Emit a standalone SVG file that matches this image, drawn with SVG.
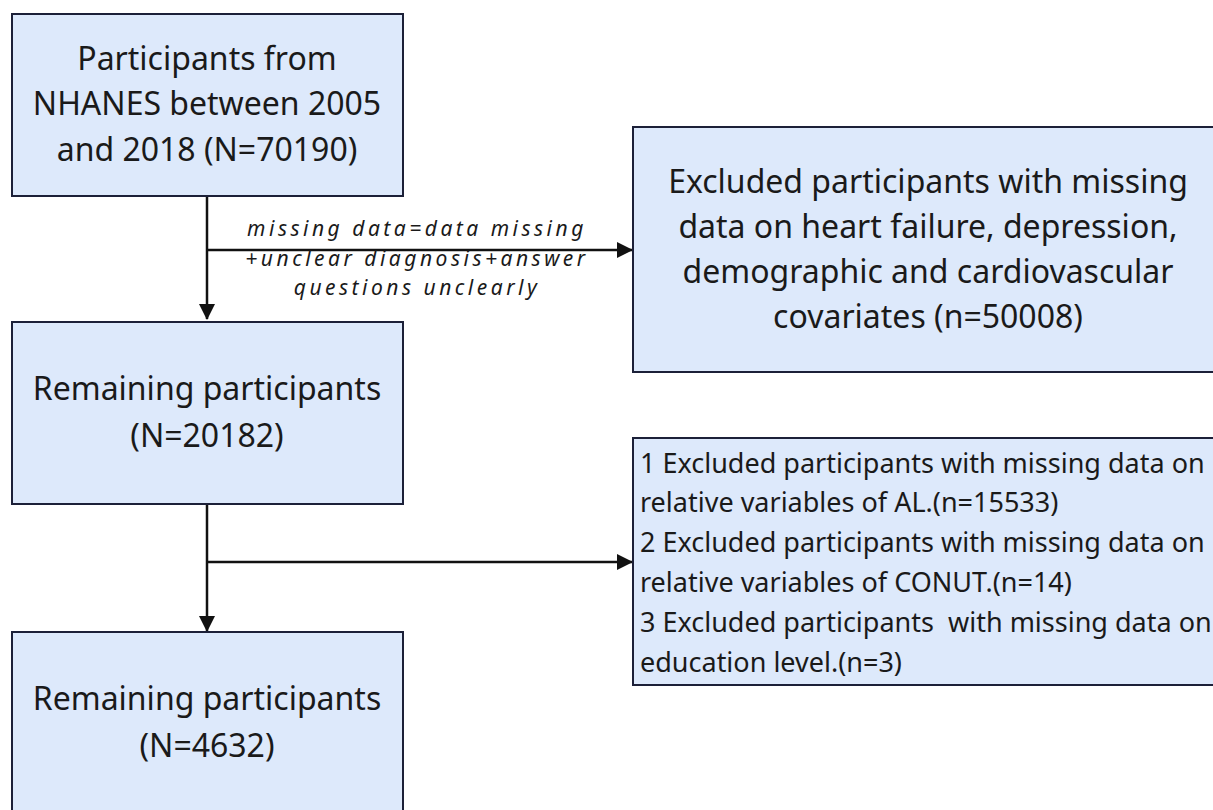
<svg xmlns="http://www.w3.org/2000/svg" width="1213" height="810" viewBox="0 0 1213 810">
<defs>
<marker id="ah" markerWidth="16" markerHeight="16" refX="15" refY="8" orient="auto" markerUnits="userSpaceOnUse" viewBox="0 0 16 16">
<path d="M0,0 L16,8 L0,16 z" fill="#111"/>
</marker>
<style>
.box{fill:#dde9fb;stroke:#1c2038;stroke-width:2}
.t{font-family:"Noto Sans","Open Sans","DejaVu Sans",sans-serif;fill:#1a1a1a}
.big{font-size:32px}
.mid{font-size:27px}
.lbl{font-family:"Noto Sans","Open Sans","DejaVu Sans",sans-serif;font-size:21px;font-style:italic;fill:#1a1a1a;letter-spacing:3.5px}
.c{text-anchor:middle}
.ln{stroke:#111;stroke-width:2.5;fill:none}
.pre{white-space:pre}
</style>
</defs>
<rect width="1213" height="810" fill="#fff"/>
<g id="connectors">
<line class="ln" x1="207" y1="196" x2="207" y2="319" marker-end="url(#ah)"/>
<line class="ln" x1="207" y1="250" x2="632" y2="250" marker-end="url(#ah)"/>
<line class="ln" x1="207" y1="504" x2="207" y2="631" marker-end="url(#ah)"/>
<line class="ln" x1="207" y1="562" x2="632" y2="562" marker-end="url(#ah)"/>
<text class="lbl c" x="417" y="236">missing data=data missing</text>
<text class="lbl c" x="417" y="266">+unclear diagnosis+answer</text>
<text class="lbl c" x="417" y="295">questions unclearly</text>
</g>
<g id="node1">
<rect class="box" x="12" y="14" width="391" height="182"/>
<text class="t big c" x="207" y="70">Participants from</text>
<text class="t big c" x="207" y="115">NHANES between 2005</text>
<text class="t big c" x="207" y="161">and 2018 (N=70190)</text>
</g>
<g id="node2">
<rect class="box" x="12" y="322" width="391" height="182"/>
<text class="t big c" x="207" y="400">Remaining participants</text>
<text class="t big c" x="207" y="447">(N=20182)</text>
</g>
<g id="node3">
<rect class="box" x="12" y="632" width="391" height="190"/>
<text class="t big c" x="207" y="710">Remaining participants</text>
<text class="t big c" x="207" y="757">(N=4632)</text>
</g>
<g id="node4">
<rect class="box" x="633" y="127" width="590" height="245"/>
<text class="t big c" x="928" y="193">Excluded participants with missing</text>
<text class="t big c" x="928" y="238">data on heart failure, depression,</text>
<text class="t big c" x="928" y="283">demographic and cardiovascular</text>
<text class="t big c" x="928" y="328">covariates (n=50008)</text>
</g>
<g id="node5">
<rect class="box" x="633" y="438" width="590" height="247"/>
<text class="t mid" x="640" y="473">1 Excluded participants with missing data on</text>
<text class="t mid" x="640" y="512">relative variables of AL.(n=15533)</text>
<text class="t mid" x="640" y="552">2 Excluded participants with missing data on</text>
<text class="t mid" x="640" y="592">relative variables of CONUT.(n=14)</text>
<text class="t mid pre" x="640" y="632">3 Excluded participants  with missing data on</text>
<text class="t mid" x="640" y="672">education level.(n=3)</text>
</g>
</svg>
